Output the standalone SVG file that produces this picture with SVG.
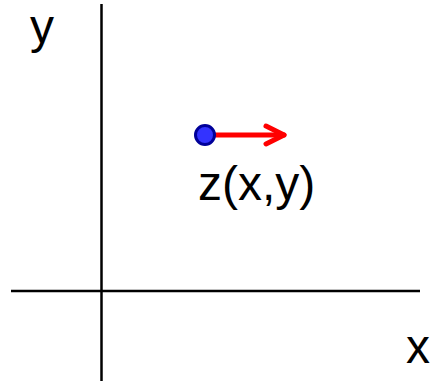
<svg xmlns="http://www.w3.org/2000/svg" width="431" height="381" viewBox="0 0 431 381">
<style>
.axis{stroke:#000;stroke-width:2.5;fill:none}
.lbl{font-family:"Liberation Sans",Arial,sans-serif;font-size:48px;fill:#000}
.vec{stroke:#ff0000;stroke-width:5;fill:none;stroke-linecap:round;stroke-linejoin:round}
</style>
<rect width="431" height="381" fill="#fff"/>
<g id="axes">
<line class="axis" x1="101.5" y1="4" x2="101.5" y2="381"/>
<line class="axis" x1="11" y1="291" x2="420" y2="291"/>
</g>
<g id="connectors">
<line class="vec" x1="213" y1="135" x2="284" y2="135"/>
<polyline class="vec" points="266,126 284,135 266,144"/>
</g>
<g id="point">
<circle cx="205" cy="135" r="9.5" fill="#3333ff" stroke="#000099" stroke-width="3"/>
<text class="lbl" x="198" y="200">z(x,y)</text>
</g>
<text class="lbl" x="30" y="43">y</text>
<text class="lbl" x="406" y="363">x</text>
</svg>
